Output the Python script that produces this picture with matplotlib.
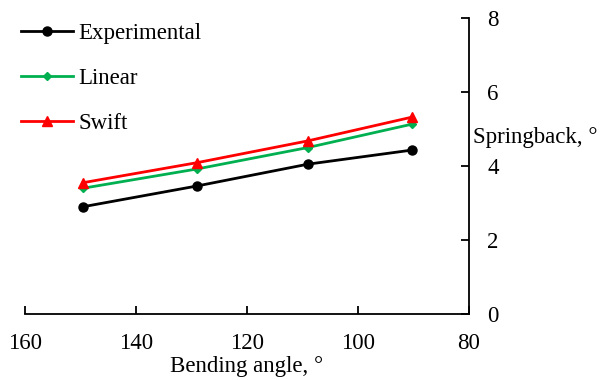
import matplotlib
matplotlib.use("Agg")
import matplotlib.pyplot as plt

plt.rcParams['font.family'] = ['Liberation Serif', 'DejaVu Serif']

# bending angle (deg) and springback (deg) for each model
bending_angle = [149.5, 129, 109, 90.3]
experimental = [2.90, 3.46, 4.05, 4.43]
linear = [3.40, 3.92, 4.50, 5.13]
swift = [3.55, 4.09, 4.68, 5.32]

x_ticks = [160, 140, 120, 100, 80]
y_ticks = [0, 2, 4, 6, 8]

FS = 16.5

fig = plt.figure(figsize=(6.05, 3.8), dpi=100)
ax = fig.add_axes([0.0413, 0.1737, 0.7339, 0.7789])

ax.plot(bending_angle, experimental, color='black', lw=2, marker='o',
        ms=6.5, label='Experimental')
ax.plot(bending_angle, linear, color='#00B050', lw=2, marker='D',
        ms=4.5, label='Linear')
ax.plot(bending_angle, swift, color='#FF0000', lw=2, marker='^',
        ms=7.5, label='Swift')

ax.set_xlim(160, 80)
ax.set_ylim(0, 8)
ax.set_xticks(x_ticks)
ax.set_yticks(y_ticks)

for side in ['top', 'left']:
    ax.spines[side].set_visible(False)
for side in ['bottom', 'right']:
    ax.spines[side].set_linewidth(1.3)

ax.yaxis.tick_right()
ax.tick_params(axis='x', direction='in', length=6, width=1.3, pad=14,
               labelsize=FS)
ax.tick_params(axis='y', direction='in', length=6, width=1.3, pad=13,
               labelsize=FS)

ax.set_xlabel('Bending angle, °', fontsize=FS, labelpad=1)
ax.yaxis.set_label_position('right')
ax.set_ylabel('Springback, °', fontsize=FS, rotation=0, ha='left',
              va='center')
ax.yaxis.set_label_coords(1.008, 0.595)

fig.legend(loc='upper left', bbox_to_anchor=(0.034, 0.94), frameon=False,
           fontsize=FS, borderpad=0, borderaxespad=0, handlelength=2.3,
           handletextpad=0.22, labelspacing=1.05)

fig.savefig('out.png', dpi=100)
